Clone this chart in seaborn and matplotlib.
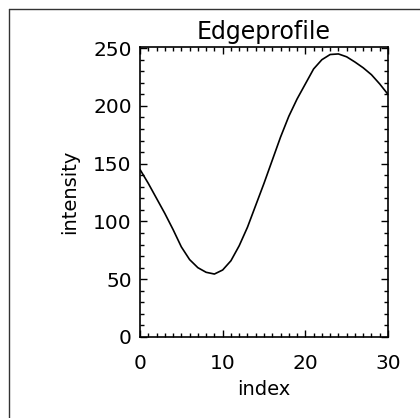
import matplotlib
matplotlib.use("Agg")
import matplotlib.pyplot as plt
from matplotlib.lines import Line2D
from matplotlib.ticker import MultipleLocator
import seaborn as sns
import pandas as pd

# data
index = list(range(31))
intensity = [145, 133, 120, 107, 93, 78, 67, 60, 56, 54.5,
             58, 66, 79, 95, 114, 133, 153, 173, 191, 206,
             219, 232, 240, 244.5, 245, 242.5, 238, 233, 227, 219, 210]
x_ticks = [0, 10, 20, 30]
y_ticks = [0, 50, 100, 150, 200, 250]

sns.set_theme(style="ticks")
plt.rcParams['font.family'] = ['DejaVu Sans']

df = pd.DataFrame({"index": index, "intensity": intensity})

fig = plt.figure(figsize=(4.2, 4.18), dpi=100)
ax = fig.add_axes([140/420, 1-337/418, (388-140)/420, (337-47)/418])

sns.lineplot(data=df, x="index", y="intensity", color="black", linewidth=1.2, ax=ax)

ax.set_xlim(0, 30)
ax.set_ylim(0, 251)
ax.set_xticks(x_ticks)
ax.set_yticks(y_ticks)
ax.xaxis.set_minor_locator(MultipleLocator(1))
ax.yaxis.set_minor_locator(MultipleLocator(10))
ax.tick_params(which="both", direction="in", top=True, right=True, color="black", width=1.0)
ax.tick_params(which="major", length=5)
ax.tick_params(which="minor", length=3)
ax.tick_params(axis="x", which="major", pad=12, labelsize=14.5, labelcolor="black")
ax.tick_params(axis="y", which="major", pad=6, labelsize=14.5, labelcolor="black")
for s in ax.spines.values():
    s.set_color("black")
    s.set_linewidth(1.2)

ax.set_xlabel("index", fontsize=14, labelpad=5, color="black")
ax.set_ylabel("intensity", fontsize=14, labelpad=10, color="black")
ax.set_title("Edgeprofile", fontsize=17, pad=6, color="black")

# figure frame (left and top edges)
fig.add_artist(Line2D([8.5/420, 8.5/420], [0, 1-9/418], transform=fig.transFigure, color="#333333", lw=1))
fig.add_artist(Line2D([8.5/420, 1], [1-9/418, 1-9/418], transform=fig.transFigure, color="#333333", lw=1))

fig.savefig("out.png", dpi=100)
